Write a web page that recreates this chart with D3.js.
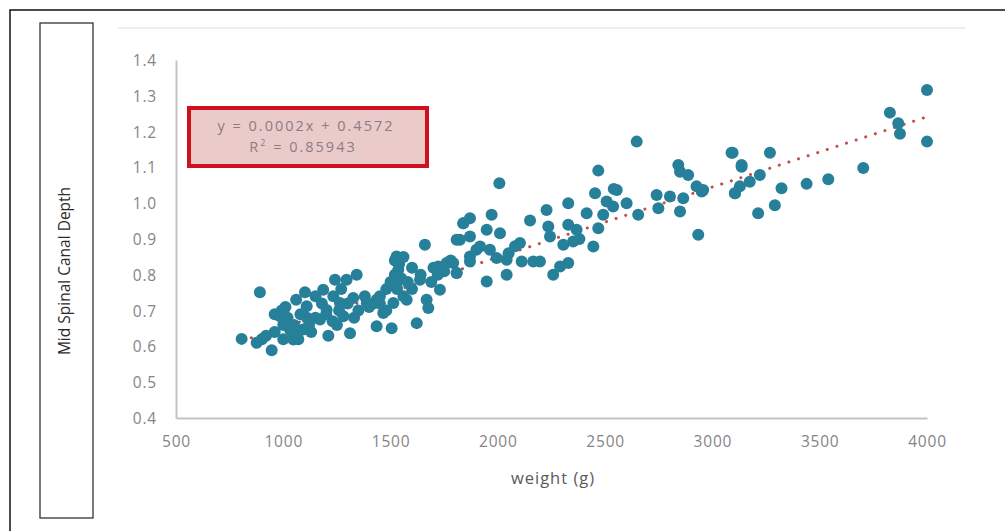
<!DOCTYPE html>
<html>
<head>
<meta charset="utf-8">
<script src="https://cdn.jsdelivr.net/npm/d3@7"></script>
<style>
  body { margin: 0; background: #fff; }
  svg { display: block; font-family: "Open Sans", "Noto Sans", sans-serif; }
</style>
</head>
<body>
<main></main>
<script>
// data: weight (g) / mid spinal canal depth
let weights = [
  806, 891, 876, 946, 993, 985, 1031, 1062, 1101, 1109, 1093, 1047, 1186, 1202, 1171,
  1241, 1233, 1264, 1280, 1210, 1311, 1295, 1342, 1326, 1389, 1435, 1435, 1505, 1466, 1513,
  1528, 1536, 1528, 1575, 1622, 1637, 1660, 1668, 1676, 1730, 1722, 1761, 1808, 1823, 1839, 1870,
  900, 920, 960, 1000, 1040, 1070, 1130, 960, 1010, 1060, 1150, 1270, 1520, 1560, 1600, 1530,
  1000, 1020, 1050, 1080, 1120, 1150, 1180, 1200, 1230, 1260, 1300, 1330, 1350, 1380, 1400,
  1420, 1450, 1480, 1500, 1520, 1540, 1550, 1560, 1580, 1600, 1640, 1700, 1750, 1780,
  2007, 2468, 2647, 3094, 3136, 3105, 2841, 2849, 2887, 2926, 2950, 2934, 2849, 2740, 2748,
  2802, 2864, 2453, 2554, 2507, 2600, 2537, 2654, 2414, 2491, 2468, 2328, 2227, 2150, 2235,
  2243, 2328, 2367, 2351, 2305, 2445, 1971, 1870, 1839, 1948, 2010, 1808, 1870, 1917, 1963,
  2103, 2111, 2041, 1994, 2196, 2165, 2290, 2328, 2258, 2041, 1948, 1808, 1870, 1792,
  4000, 4000, 3827, 3866, 3874, 3703, 3540, 3439, 3322, 3268, 3089, 3136, 3221, 3174, 3128,
  3105, 3291, 3213, 2957, 2540, 2380, 2050, 2080, 1900, 1720, 1690, 1480, 1450, 1250, 1110
]
let depths = [
  0.621, 0.751, 0.610, 0.589, 0.700, 0.684, 0.647, 0.637, 0.751, 0.712, 0.647, 0.619, 0.758, 0.702, 0.675,
  0.786, 0.740, 0.721, 0.684, 0.630, 0.637, 0.786, 0.800, 0.735, 0.721, 0.730, 0.656, 0.651, 0.693, 0.721,
  0.851, 0.814, 0.767, 0.730, 0.665, 0.786, 0.884, 0.730, 0.707, 0.758, 0.823, 0.833, 0.805, 0.898, 0.944, 0.851,
  0.62, 0.63, 0.64, 0.62, 0.64, 0.62, 0.64, 0.69, 0.71, 0.73, 0.74, 0.76, 0.84, 0.85, 0.82, 0.76,
  0.66, 0.68, 0.66, 0.69, 0.66, 0.68, 0.72, 0.69, 0.67, 0.70, 0.72, 0.68, 0.70, 0.74, 0.71,
  0.72, 0.74, 0.76, 0.78, 0.80, 0.83, 0.79, 0.74, 0.78, 0.76, 0.80, 0.82, 0.81, 0.84,
  1.056, 1.091, 1.172, 1.141, 1.107, 1.028, 1.107, 1.088, 1.079, 1.047, 1.033, 0.912, 0.977, 1.023, 0.986,
  1.019, 1.014, 1.028, 1.037, 1.005, 1.000, 0.991, 0.968, 0.972, 0.968, 0.930, 1.000, 0.981, 0.952, 0.935,
  0.907, 0.940, 0.926, 0.893, 0.884, 0.879, 0.968, 0.958, 0.944, 0.926, 0.916, 0.898, 0.907, 0.879, 0.870,
  0.889, 0.837, 0.842, 0.847, 0.837, 0.837, 0.823, 0.833, 0.800, 0.800, 0.781, 0.805, 0.837, 0.833,
  1.316, 1.172, 1.253, 1.223, 1.194, 1.098, 1.067, 1.054, 1.042, 1.141, 1.141, 1.102, 1.079, 1.060, 1.047,
  1.028, 0.994, 0.972, 1.037, 1.040, 0.900, 0.860, 0.880, 0.870, 0.800, 0.780, 0.700, 0.720, 0.660, 0.680
]

let xTicks = [500, 1000, 1500, 2000, 2500, 3000, 3500, 4000]
let yTicks = [0.4, 0.5, 0.6, 0.7, 0.8, 0.9, 1.0, 1.1, 1.2, 1.3, 1.4]

// trendline as drawn (label shows the rounded one)
let trendSlope = 0.000196
let trendIntercept = 0.4572
let eqLines = ["y = 0.0002x + 0.4572", "R", "2", " = 0.85943"]

let points = weights.map((w, i) => ({ w: w, d: depths[i] }))

let svg = d3.select('main')
    .append('svg')
    .attr('width', 1005)
    .attr('height', 531)

// outer frame (only top and left visible)
svg.append('path')
    .attr('d', 'M10,531 L10,10 L1005,10')
    .attr('fill', 'none')
    .attr('stroke', '#111')
    .attr('stroke-width', 1.5)

// faint chart-area edge
svg.append('line')
    .attr('x1', 118).attr('x2', 965)
    .attr('y1', 28).attr('y2', 28)
    .attr('stroke', '#eeeeee')
    .attr('stroke-width', 2)

// y label box
svg.append('rect')
    .attr('x', 40)
    .attr('y', 23)
    .attr('width', 53)
    .attr('height', 495)
    .attr('fill', 'none')
    .attr('stroke', '#333')
    .attr('stroke-width', 1.3)

svg.append('text')
    .attr('transform', 'translate(70,271) rotate(-90)')
    .attr('text-anchor', 'middle')
    .style('font-size', '15.5px')
    .style('fill', '#2b2b2b')
    .text('Mid Spinal Canal Depth')

let x = d3.scaleLinear().domain([500, 4000]).range([176, 927])
let y = d3.scaleLinear().domain([0.4, 1.4]).range([418, 60])

let xAxis = svg.append('g')
    .attr('transform', 'translate(0,418)')
    .call(d3.axisBottom(x).tickValues(xTicks).tickSize(0).tickPadding(18).tickFormat(d3.format('d')))
let yAxis = svg.append('g')
    .attr('transform', 'translate(176,0)')
    .call(d3.axisLeft(y).tickValues(yTicks).tickSize(0).tickPadding(19).tickFormat(d3.format('.1f')))

for (let ax of [xAxis, yAxis]) {
    ax.select('.domain').attr('stroke', '#c4c4c4').attr('stroke-width', 2)
    ax.selectAll('text')
        .style('font-size', '15.5px')
        .style('letter-spacing', '0.8px')
        .style('font-family', '"Open Sans", sans-serif')
        .style('fill', '#858585')
}
yAxis.selectAll('text').attr('dy', '0.35em')

svg.append('text')
    .attr('x', 553)
    .attr('y', 484)
    .attr('text-anchor', 'middle')
    .style('font-size', '16.5px')
    .style('letter-spacing', '1px')
    .style('fill', '#5a5a5a')
    .text('weight (g)')

// trendline
let xMin = d3.min(weights), xMax = d3.max(weights)
svg.append('line')
    .attr('x1', x(xMin)).attr('y1', y(trendSlope * xMin + trendIntercept))
    .attr('x2', x(xMax)).attr('y2', y(trendSlope * xMax + trendIntercept))
    .attr('stroke', '#c0504d')
    .attr('stroke-width', 3)
    .attr('stroke-linecap', 'round')
    .attr('stroke-dasharray', '0.1 10')

// points
svg.append('g')
    .selectAll('circle')
    .data(points)
    .enter()
    .append('circle')
    .attr('cx', d => x(d.w))
    .attr('cy', d => y(d.d))
    .attr('r', 6)
    .attr('fill', '#27809a')

// equation box
svg.append('rect')
    .attr('x', 189)
    .attr('y', 108)
    .attr('width', 238)
    .attr('height', 58)
    .attr('fill', '#ebcaca')
    .attr('stroke', '#d0101e')
    .attr('stroke-width', 4)

svg.append('text')
    .attr('x', 306)
    .attr('y', 131)
    .attr('text-anchor', 'middle')
    .style('font-size', '14.5px')
    .style('letter-spacing', '2px')
    .style('fill', '#8a7c86')
    .text(eqLines[0])

let r2 = svg.append('text')
    .attr('x', 303)
    .attr('y', 152)
    .attr('text-anchor', 'middle')
    .style('font-size', '14.5px')
    .style('letter-spacing', '2px')
    .style('fill', '#8a7c86')
r2.append('tspan').text(eqLines[1])
r2.append('tspan').attr('dy', -6).style('font-size', '9px').text(eqLines[2])
r2.append('tspan').attr('dy', 6).text(eqLines[3])
</script>
</body>
</html>
